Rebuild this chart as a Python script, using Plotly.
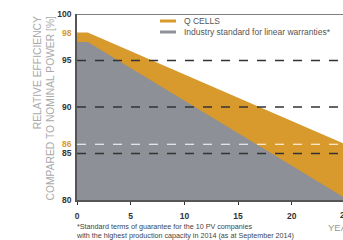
import plotly.graph_objects as go

# Data
years = [0, 1, 25]
qcells = [98, 98, 86]
industry = [97, 97, 80.2]
y_tickvals = [80, 85, 86, 90, 95, 98, 100]
y_ticktext = ["80", "85", "86", "90", "95", "98", "100"]
x_tickvals = [0, 5, 10, 15, 20]
dashed_dark = [95, 90, 85]
dashed_light = [86]

ORANGE = "#D89A2C"
GREY = "#8D9096"
DARK = "#333333"
highlight = {"98", "86"}

fig = go.Figure()
fig.add_trace(go.Scatter(x=years, y=qcells, mode="lines", line=dict(width=0, color=ORANGE),
                         fill="tozeroy", fillcolor=ORANGE, hoverinfo="skip", showlegend=False))
fig.add_trace(go.Scatter(x=years, y=industry, mode="lines", line=dict(width=0, color=GREY),
                         fill="tozeroy", fillcolor=GREY, hoverinfo="skip", showlegend=False))

shapes = []
for v in dashed_dark:
    shapes.append(dict(type="line", xref="x", yref="y", x0=0, x1=30, y0=v, y1=v,
                       line=dict(color=DARK, width=1.3, dash="dash"), layer="above"))
for v in dashed_light:
    shapes.append(dict(type="line", xref="x", yref="y", x0=0, x1=30, y0=v, y1=v,
                       line=dict(color="white", width=1.1, dash="dash"), layer="above"))
# top line at 100
shapes.append(dict(type="line", xref="x", yref="y", x0=0, x1=30, y0=100, y1=100,
                   line=dict(color="#555555", width=1.5), layer="above"))

W = 266.0
H = 186.0
def px(xp):
    return (xp - 77) / W
def py(yp):
    return (200 - yp) / H

# legend swatches
shapes.append(dict(type="line", xref="paper", yref="paper", x0=px(160), x1=px(176), y0=py(21), y1=py(21),
                   line=dict(color=ORANGE, width=3)))
shapes.append(dict(type="line", xref="paper", yref="paper", x0=px(160), x1=px(176), y0=py(32), y1=py(32),
                   line=dict(color=GREY, width=3)))

ticktext = [f"<span style='color:{ORANGE}'>{t}</span>" if t in highlight else t for t in y_ticktext]

annotations = [
    dict(xref="paper", yref="paper", x=px(182), y=py(21), xanchor="left", yanchor="middle",
         text="Q CELLS", showarrow=False, font=dict(size=8.5, color="#555555", family="Liberation Sans")),
    dict(xref="paper", yref="paper", x=px(182), y=py(32), xanchor="left", yanchor="middle",
         text="Industry standard for linear warranties*", showarrow=False,
         font=dict(size=8.5, color="#555555", family="Liberation Sans")),
    dict(xref="paper", yref="paper", x=px(43), y=1.0, xanchor="center", yanchor="top",
         text="RELATIVE EFFICIENCY<br>COMPARED TO NOMINAL POWER [%]", textangle=-90, align="right",
         showarrow=False, font=dict(size=10.3, color="#AAAAAA", family="Liberation Sans")),
    dict(xref="paper", yref="paper", x=px(74), y=py(220), xanchor="left", yanchor="top",
         text="*Standard terms of guarantee for the 10 PV companies<br>with the highest production capacity in 2014 (as at September 2014)",
         align="left", showarrow=False, font=dict(size=7.2, color="#444444", family="Liberation Sans")),
    dict(xref="paper", yref="paper", x=px(326), y=py(227), xanchor="left", yanchor="middle",
         text="YEARS", showarrow=False, font=dict(size=9.5, color="#999999", family="Liberation Sans")),
    dict(xref="paper", yref="paper", x=px(345), y=py(215), xanchor="center", yanchor="middle",
         text="<b>25</b>", showarrow=False, font=dict(size=8.5, color=DARK, family="Liberation Sans")),
]

fig.update_layout(
    width=343, height=240,
    margin=dict(l=77, r=0, t=14, b=40),
    plot_bgcolor="white", paper_bgcolor="white",
    showlegend=False,
    shapes=shapes, annotations=annotations,
    font=dict(family="Liberation Sans"),
)
fig.update_xaxes(range=[0, 24.77], tickvals=x_tickvals, ticktext=[f"<b>{v}</b>" for v in x_tickvals],
                 showgrid=False, zeroline=False, showline=True, linecolor="#555555", linewidth=1.5,
                 ticks="outside", ticklen=3, tickcolor=DARK, tickwidth=1, ticklabelstandoff=4,
                 tickfont=dict(size=8.5, color=DARK))
fig.update_yaxes(range=[80, 100], tickvals=y_tickvals, ticktext=[f"<b>{t}</b>" for t in ticktext],
                 showgrid=False, zeroline=False, showline=True, linecolor="#555555", linewidth=1.5,
                 ticks="", tickfont=dict(size=8.5, color=DARK), ticklabelstandoff=2)

fig.write_html("out.html", config={"displayModeBar": False},
               post_script="document.body.style.margin='0';document.body.style.padding='0';")
